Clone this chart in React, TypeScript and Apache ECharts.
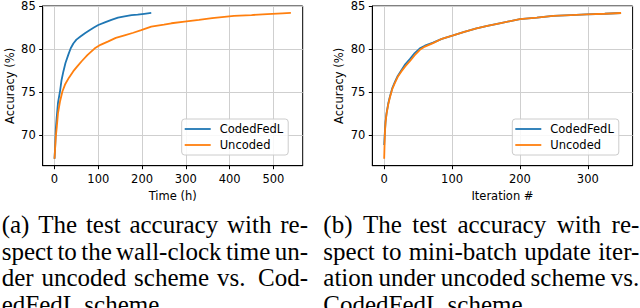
import React, { useEffect, useRef } from "react";
import * as echarts from "echarts";

// ---- Data ----
const SERIES_NAMES = ["CodedFedL", "Uncoded"];

// (a) accuracy vs wall-clock time (h)
const TIME_CODED = [0, 1.5, 3, 5, 8, 12.8, 16, 20.4, 25, 31.8, 37, 43, 50, 60, 69.5, 80, 90, 100, 115, 130, 145, 160, 176, 190, 205, 221];
const ACC_TIME_CODED = [67.3, 68.8, 70.8, 72.1, 73.8, 75.2, 76.4, 77.45, 78.4, 79.4, 80.1, 80.65, 81.1, 81.5, 81.85, 82.2, 82.5, 82.8, 83.1, 83.4, 83.65, 83.8, 83.95, 84.0, 84.1, 84.2];
const TIME_UNCODED = [0, 1.5, 3, 5.2, 8, 12.8, 18, 24, 33, 43, 52, 62, 75, 92, 105, 123, 140, 160, 180, 198, 221, 250, 267, 297, 330, 360, 410, 450, 486, 520, 540];
const ACC_TIME_UNCODED = [67.3, 68.6, 69.9, 71.0, 72.6, 74.0, 75.1, 75.9, 76.7, 77.45, 78.0, 78.6, 79.3, 80.1, 80.5, 80.9, 81.3, 81.6, 81.9, 82.2, 82.6, 82.85, 83.0, 83.2, 83.4, 83.6, 83.85, 83.95, 84.07, 84.15, 84.2];

// (b) accuracy vs iteration
const ITER = [0, 1, 2, 3.5, 6, 8.4, 12, 15.8, 20, 25.6, 31, 37.8, 45, 52.6, 60, 72, 85, 101.6, 118, 136, 152, 170, 200, 225, 249, 275, 298, 325, 349];
const ACC_ITER_CODED = [68.9, 70.4, 71.6, 72.6, 73.7, 74.5, 75.5, 76.2, 76.9, 77.6, 78.25, 78.85, 79.55, 80.1, 80.4, 80.75, 81.2, 81.6, 82.0, 82.4, 82.7, 83.0, 83.47, 83.65, 83.85, 83.95, 84.04, 84.1, 84.19];
const ACC_ITER_UNCODED = [67.3, 70.2, 71.5, 72.5, 73.6, 74.4, 75.4, 76.1, 76.8, 77.45, 78.0, 78.6, 79.3, 79.93, 80.3, 80.7, 81.2, 81.6, 82.0, 82.4, 82.7, 83.0, 83.47, 83.65, 83.85, 83.95, 84.04, 84.1, 84.19];

const Y_TICKS = [70, 75, 80, 85];
const TIME_TICKS = [0, 100, 200, 300, 400, 500];
const ITER_TICKS = [0, 100, 200, 300];

const CAPTION_A = [
  "(a) The test accuracy with re-",
  "spect to the wall-clock time un-",
  "der uncoded scheme vs. Cod-",
  "edFedL scheme.",
];
const CAPTION_B = [
  "(b) The test accuracy with re-",
  "spect to mini-batch update iter-",
  "ation under uncoded scheme vs.",
  "CodedFedL scheme.",
];

const BLUE = "#1f77b4";
const ORANGE = "#ff7f0e";
const SANS = "'DejaVu Sans', sans-serif";
const SERIF = "'Liberation Serif', 'Times New Roman', serif";

function zip(xs: number[], ys: number[]) {
  return xs.map((x, i) => [x, ys[i]]);
}

function captionElements(lines: string[], x0: number, x1: number, baselines: number[], fontSize: number, justifyCount: number) {
  const canvas = document.createElement("canvas");
  const ctx = canvas.getContext("2d") as CanvasRenderingContext2D;
  const font = `${fontSize}px ${SERIF}`;
  ctx.font = font;
  const space = ctx.measureText(" ").width;
  const els: any[] = [];
  lines.forEach((line, li) => {
    const words = line.split(/\s+/);
    const widths = words.map((w) => ctx.measureText(w).width);
    const total = widths.reduce((a, b) => a + b, 0);
    const justify = li < justifyCount && words.length > 1;
    const weights = words.slice(0, -1).map((w) => (/\.$/.test(w) ? 1.6 : 1));
    const wsum = weights.reduce((a, b) => a + b, 0);
    const unit = justify ? (x1 - x0 - total) / wsum : space;
    let x = x0;
    words.forEach((w, wi) => {
      els.push({
        type: "text",
        x,
        y: baselines[li] - fontSize * 0.33,
        silent: true,
        style: { text: w, font, fill: "#000", verticalAlign: "middle", align: "left" },
      });
      x += widths[wi] + (wi < weights.length ? unit * weights[wi] : 0);
    });
  });
  return els;
}

function axisCommon() {
  return {
    type: "value",
    axisLine: { show: true, onZero: false, lineStyle: { color: "#000", width: 1 } },
    splitLine: { show: true, lineStyle: { color: "#cfcfcf", width: 1 } },
    nameLocation: "middle",
    nameTextStyle: { fontFamily: SANS, fontSize: 11.5, color: "#000" },
  };
}

export default function App() {
  const ref = useRef<HTMLDivElement>(null);
  useEffect(() => {
    document.body.style.margin = "0";
    if (!ref.current) return;
    const chart = echarts.init(ref.current, undefined, { renderer: "svg" });
    const labelStyle = { fontFamily: SANS, fontSize: 11.5, color: "#000" };
    const xAxis = (gridIndex: number, min: number, max: number, ticks: number[], name: string) => ({
      ...axisCommon(),
      gridIndex,
      min,
      max,
      name,
      nameGap: 21,
      axisTick: { show: true, inside: false, length: 3.5, customValues: ticks, lineStyle: { color: "#000" } },
      axisLabel: { ...labelStyle, margin: 7, customValues: ticks },
    });
    const yAxis = (gridIndex: number) => ({
      ...axisCommon(),
      gridIndex,
      min: 66.5,
      max: 85,
      name: "Accuracy (%)",
      nameGap: 27,
      axisTick: { show: true, inside: false, length: 3.5, customValues: Y_TICKS, lineStyle: { color: "#000" } },
      axisLabel: { ...labelStyle, margin: 7, customValues: Y_TICKS },
    });
    const legend = (left: number) => ({
      data: SERIES_NAMES,
      orient: "vertical",
      left,
      top: 119,
      padding: [4, 5, 4, 3],
      itemWidth: 26,
      itemHeight: 12,
      itemGap: 4,
      icon: "path://M0,0H26V1.8H0Z",
      symbolKeepAspect: true,
      selectedMode: false,
      backgroundColor: "rgba(255,255,255,0.85)",
      borderColor: "#cccccc",
      borderWidth: 1,
      borderRadius: 3,
      textStyle: { fontFamily: SANS, fontSize: 11.5, color: "#000", padding: [0, 0, 0, 4] },
    });
    const line = (name: string, color: string, xi: number, data: number[][]) => ({
      type: "line",
      name,
      xAxisIndex: xi,
      yAxisIndex: xi,
      data,
      symbol: "none",
      clip: true,
      lineStyle: { color, width: 1.8 },
      itemStyle: { color },
    });
    const option: any = {
      animation: false,
      grid: [
        { left: 42.7, top: 4, width: 260, height: 161.7, show: true, borderColor: "#000", borderWidth: 1, backgroundColor: "transparent" },
        { left: 372.3, top: 4, width: 260.3, height: 161.7, show: true, borderColor: "#000", borderWidth: 1, backgroundColor: "transparent" },
      ],
      xAxis: [
        xAxis(0, -27, 567, TIME_TICKS, "Time (h)"),
        xAxis(1, -17.5, 366, ITER_TICKS, "Iteration #"),
      ],
      yAxis: [yAxis(0), yAxis(1)],
      legend: [legend(181.7), legend(512.3)],
      series: [
        line(SERIES_NAMES[0], BLUE, 0, zip(TIME_CODED, ACC_TIME_CODED)),
        line(SERIES_NAMES[1], ORANGE, 0, zip(TIME_UNCODED, ACC_TIME_UNCODED)),
        line(SERIES_NAMES[0], BLUE, 1, zip(ITER, ACC_ITER_CODED)),
        line(SERIES_NAMES[1], ORANGE, 1, zip(ITER, ACC_ITER_UNCODED)),
      ],
      graphic: [
        ...captionElements(CAPTION_A, 1.7, 308, [232.7, 259.5, 286.2, 313], 25, 3),
        ...captionElements(CAPTION_B, 323.3, 639.3, [232.7, 259.5, 286.2, 313], 25, 3),
      ],
    };
    chart.setOption(option);
    return () => chart.dispose();
  }, []);
  return <div ref={ref} style={{ width: 640, height: 308 }} />;
}
